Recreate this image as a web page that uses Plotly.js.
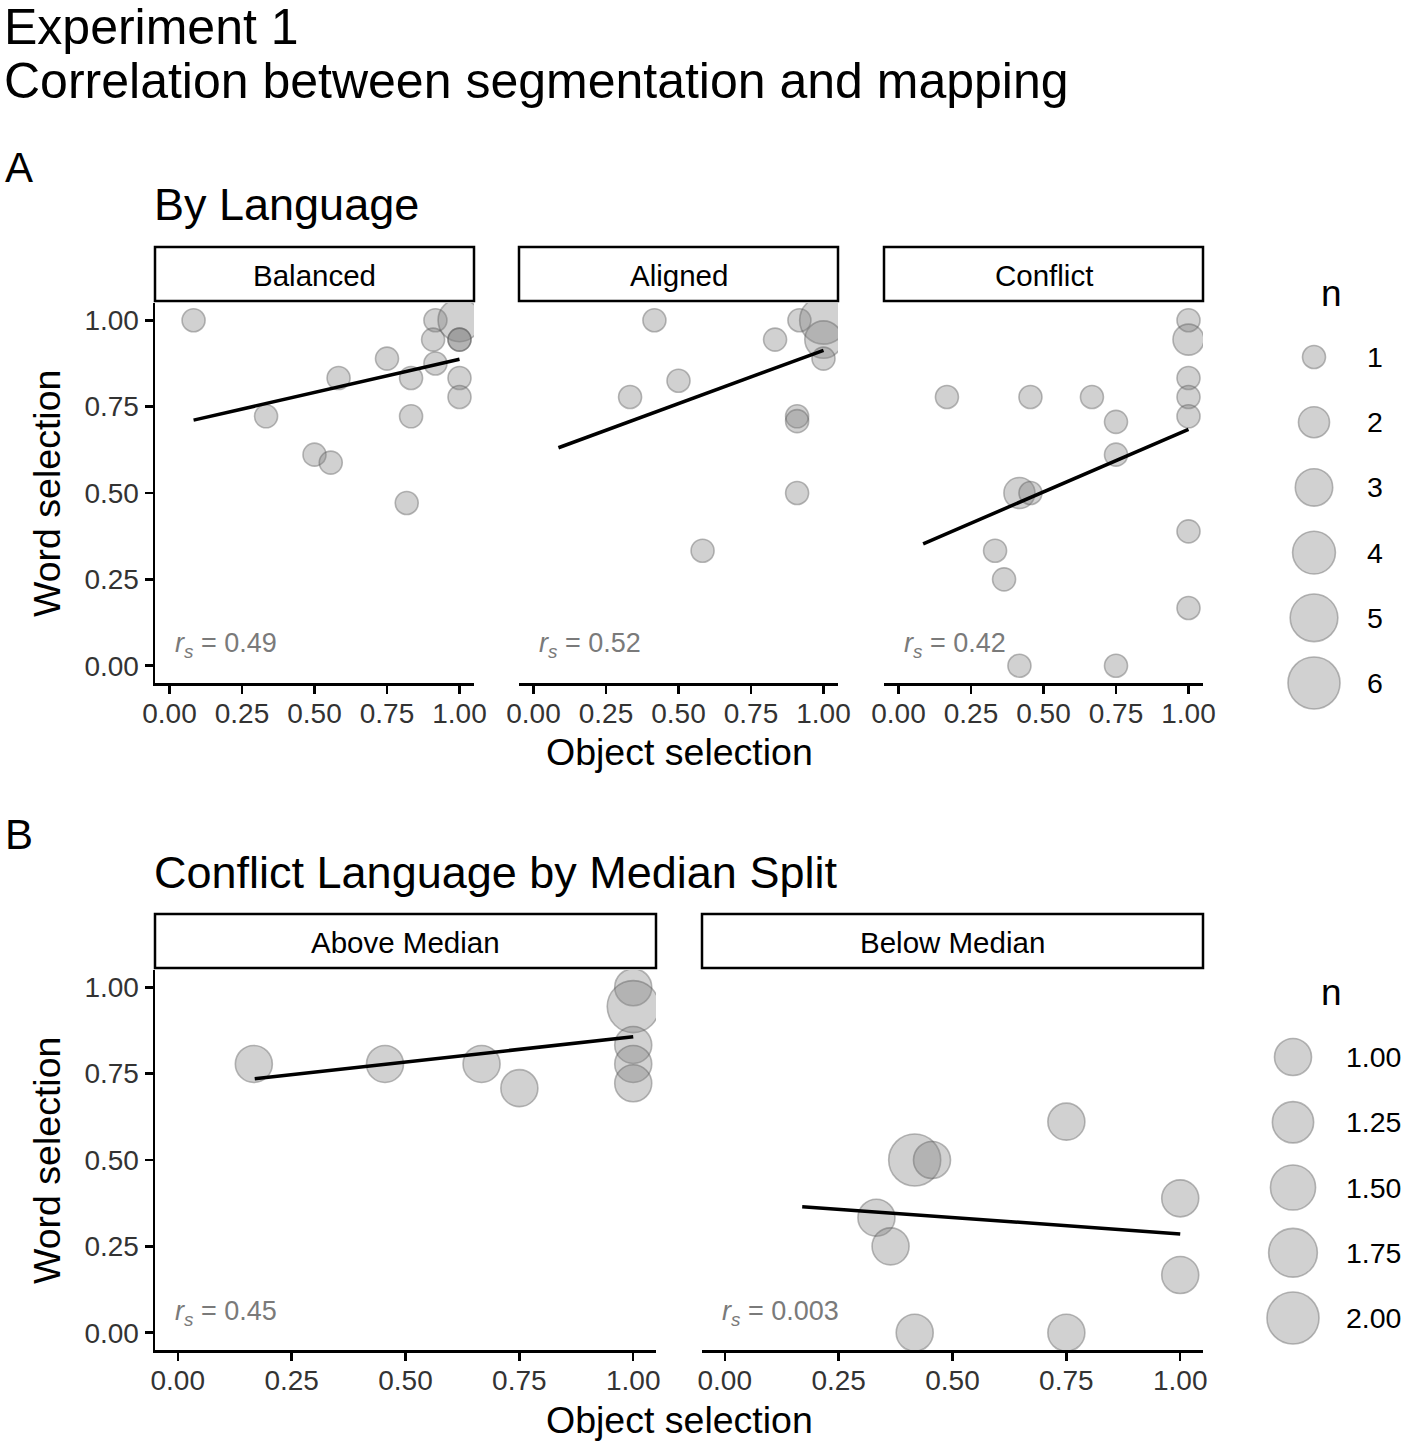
<!DOCTYPE html>
<html lang="en">
<head>
  <meta charset="UTF-8">
  <title>Experiment 1 - Correlation between segmentation and mapping</title>
  <script src="https://cdn.plot.ly/plotly-3.0.1.min.js"></script>
  <style>
    body { margin: 0; background: #fff; }
    #chart { width: 1405px; height: 1445px; }
  </style>
</head>
<body>
  <div id="chart"></div>
  <script>
    // ---- data ----
    // Panel A: by language
    const balancedX = [0.083, 0.333, 0.5, 0.556, 0.583, 0.75, 0.833, 0.833, 0.818, 0.917, 0.909, 0.917, 1, 1, 1, 1, 1];
    const balancedY = [1, 0.722, 0.611, 0.588, 0.833, 0.889, 0.833, 0.722, 0.471, 1, 0.944, 0.875, 1, 0.944, 0.944, 0.833, 0.778];
    const balancedN = [1, 1, 1, 1, 1, 1, 1, 1, 1, 1, 1, 1, 4, 1, 1, 1, 1];
    const balancedFitX = [0.083, 1];
    const balancedFitY = [0.711, 0.887];

    const alignedX = [0.417, 0.833, 0.917, 1, 1, 1, 0.5, 0.333, 0.909, 0.909, 0.909, 0.583];
    const alignedY = [1, 0.944, 1, 1, 0.944, 0.889, 0.825, 0.778, 0.722, 0.708, 0.5, 0.333];
    const alignedN = [1, 1, 1, 5, 3, 1, 1, 1, 1, 1, 1, 1];
    const alignedFitX = [0.086, 1];
    const alignedFitY = [0.631, 0.913];

    const conflictX = [1, 1, 1, 1, 1, 0.167, 0.455, 0.667, 0.75, 0.75, 0.417, 0.455, 0.333, 0.364, 1, 1, 0.417, 0.75];
    const conflictY = [1, 0.944, 0.833, 0.778, 0.722, 0.778, 0.778, 0.778, 0.706, 0.611, 0.5, 0.5, 0.333, 0.25, 0.389, 0.167, 0, 0];
    const conflictN = [1, 2, 1, 1, 1, 1, 1, 1, 1, 1, 2, 1, 1, 1, 1, 1, 1, 1];
    const conflictFitX = [0.085, 1];
    const conflictFitY = [0.353, 0.684];

    const rsA = ['0.49', '0.52', '0.42'];

    // Panel B: conflict language by median split
    const aboveX = [0.167, 0.455, 0.667, 0.75, 1, 1, 1, 1, 1];
    const aboveY = [0.778, 0.778, 0.778, 0.708, 1, 0.944, 0.833, 0.778, 0.722];
    const aboveN = [1, 1, 1, 1, 1, 2, 1, 1, 1];
    const aboveFitX = [0.169, 1];
    const aboveFitY = [0.735, 0.857];

    const belowX = [0.75, 0.417, 0.455, 1, 0.333, 0.364, 1, 0.417, 0.75];
    const belowY = [0.611, 0.5, 0.5, 0.389, 0.333, 0.25, 0.167, 0, 0];
    const belowN = [1, 2, 1, 1, 1, 1, 1, 1, 1];
    const belowFitX = [0.17, 1];
    const belowFitY = [0.365, 0.286];

    const rsB = ['0.45', '0.003'];

    const legendA = [1, 2, 3, 4, 5, 6];
    const legendB = [1, 1.25, 1.5, 1.75, 2];
    const legendBLabels = ['1.00', '1.25', '1.50', '1.75', '2.00'];
    const tickVals = [0, 0.25, 0.5, 0.75, 1];
    const tickText = ['0.00', '0.25', '0.50', '0.75', '1.00'];

    // ---- helpers ----
    const W = 1405, H = 1445;
    const FONT = 'Liberation Sans, Arial, sans-serif';
    const fx = p => p / W;
    const fy = p => 1 - p / H;

    // point area grows linearly with n (like ggplot's scale_size)
    const sizeA = n => Math.sqrt(529 + 435 * (n - 1));
    const sizeB = n => Math.sqrt(1369 + 1335 * (n - 1));

    const FILL = 'rgba(125,125,125,0.5)';
    const EDGE = 'rgba(85,85,85,0.6)';

    function points(x, y, n, sizeFn, xa, ya) {
      return {
        type: 'scatter', mode: 'markers', x: x, y: y, xaxis: xa, yaxis: ya,
        marker: { size: n.map(sizeFn), sizemode: 'diameter', color: FILL, line: { color: EDGE, width: 1.6 } },
        showlegend: false, hoverinfo: 'x+y'
      };
    }
    function fit(x, y, xa, ya) {
      return {
        type: 'scatter', mode: 'lines', x: x, y: y, xaxis: xa, yaxis: ya,
        line: { color: '#000', width: 3.5 }, showlegend: false, hoverinfo: 'skip'
      };
    }

    const traces = [
      points(balancedX, balancedY, balancedN, sizeA, 'x', 'y'),
      fit(balancedFitX, balancedFitY, 'x', 'y'),
      points(alignedX, alignedY, alignedN, sizeA, 'x2', 'y2'),
      fit(alignedFitX, alignedFitY, 'x2', 'y2'),
      points(conflictX, conflictY, conflictN, sizeA, 'x3', 'y3'),
      fit(conflictFitX, conflictFitY, 'x3', 'y3'),
      points(aboveX, aboveY, aboveN, sizeB, 'x4', 'y4'),
      fit(aboveFitX, aboveFitY, 'x4', 'y4'),
      points(belowX, belowY, belowN, sizeB, 'x5', 'y5'),
      fit(belowFitX, belowFitY, 'x5', 'y5')
    ];

    // size legends drawn on a pixel-scaled hidden axis
    traces.push({
      type: 'scatter', mode: 'markers', xaxis: 'x6', yaxis: 'y6', cliponaxis: false,
      x: legendA.map(() => 1314), y: legendA.map((v, i) => 357 + 65.2 * i),
      marker: { size: legendA.map(sizeA), sizemode: 'diameter', color: FILL, line: { color: EDGE, width: 1.6 } },
      showlegend: false, hoverinfo: 'skip'
    });
    traces.push({
      type: 'scatter', mode: 'markers', xaxis: 'x6', yaxis: 'y6', cliponaxis: false,
      x: legendB.map(() => 1293), y: legendB.map((v, i) => 1057 + 65.25 * i),
      marker: { size: legendB.map(sizeB), sizemode: 'diameter', color: FILL, line: { color: EDGE, width: 1.6 } },
      showlegend: false, hoverinfo: 'skip'
    });

    const panelsA = [[155, 474, 'Balanced'], [519, 838, 'Aligned'], [884, 1203, 'Conflict']];
    const panelsB = [[155, 656, 'Above Median'], [702, 1203, 'Below Median']];
    const rowA = [303, 683], rowB = [970, 1350];

    function xAxis(px0, px1, anchor) {
      return {
        domain: [fx(px0), fx(px1)], anchor: anchor, range: [-0.05, 1.05],
        showgrid: false, zeroline: false, showline: true, linecolor: '#000', linewidth: 2.5,
        ticks: 'outside', ticklen: 8, tickwidth: 2.5, tickcolor: '#000', ticklabelstandoff: -4,
        tickvals: tickVals, ticktext: tickText,
        tickfont: { family: FONT, size: 28, color: '#333' }, fixedrange: true
      };
    }
    function yAxis(row, anchor, shown) {
      return {
        domain: [fy(row[1]), fy(row[0])], anchor: anchor, range: [-0.05, 1.05],
        showgrid: false, zeroline: false, showline: shown, linecolor: '#000', linewidth: 2.5,
        ticks: shown ? 'outside' : '', ticklen: 8, tickwidth: 2.5, tickcolor: '#000',
        showticklabels: shown, tickvals: tickVals, ticktext: tickText,
        tickfont: { family: FONT, size: 28, color: '#333' }, fixedrange: true
      };
    }

    const shapes = [];
    const annotations = [];
    function txt(text, x, y, size, opts) {
      annotations.push(Object.assign({
        text: text, x: x, y: y, xref: 'paper', yref: 'paper', showarrow: false,
        xanchor: 'left', yanchor: 'middle', font: { family: FONT, size: size, color: '#000' }
      }, opts || {}));
    }
    function strip(px0, px1, top, label) {
      shapes.push({
        type: 'rect', xref: 'paper', yref: 'paper', x0: fx(px0), x1: fx(px1), y0: fy(top + 54), y1: fy(top),
        line: { color: '#000', width: 2.5 }, fillcolor: '#fff'
      });
      txt(label, fx((px0 + px1) / 2), fy(top + 28), 29.5, { xanchor: 'center' });
    }

    const rsFont = { family: FONT, size: 27, color: '#7a7a7a' };
    panelsA.forEach((p, i) => {
      strip(p[0], p[1], 247, p[2]);
      txt('<i>r</i><sub><i>s</i></sub> = ' + rsA[i], fx(p[0] + 18), fy(645), 27, { font: rsFont });
    });
    panelsB.forEach((p, i) => {
      strip(p[0], p[1], 914, p[2]);
      txt('<i>r</i><sub><i>s</i></sub> = ' + rsB[i], fx(p[0] + 18), fy(1313), 27, { font: rsFont });
    });

    // titles and labels
    txt('Experiment 1', fx(2), fy(27), 50);
    txt('Correlation between segmentation and mapping', fx(2), fy(81), 50);
    txt('A', fx(3), fy(167), 42);
    txt('By Language', fx(152), fy(205), 45);
    txt('B', fx(3), fy(834), 42);
    txt('Conflict Language by Median Split', fx(152), fy(872), 45);

    txt('Object selection', fx(679), fy(752), 37.5, { xanchor: 'center' });
    txt('Object selection', fx(679), fy(1420), 37.5, { xanchor: 'center' });
    txt('Word selection', fx(47), fy(494), 37.5, { xanchor: 'center', textangle: -90 });
    txt('Word selection', fx(47), fy(1161), 37.5, { xanchor: 'center', textangle: -90 });

    txt('n', fx(1331), fy(293), 37, { xanchor: 'center' });
    legendA.forEach((v, i) => txt(String(v), fx(1365), fy(357 + 65.2 * i), 28.5));
    txt('n', fx(1331), fy(992), 37, { xanchor: 'center' });
    legendBLabels.forEach((v, i) => txt(v, fx(1344), fy(1057 + 65.25 * i), 28.5));

    const layout = {
      width: W, height: H, margin: { l: 0, r: 0, t: 0, b: 0 },
      paper_bgcolor: '#fff', plot_bgcolor: 'rgba(0,0,0,0)',
      font: { family: FONT },
      xaxis: xAxis(155, 474, 'y'), yaxis: yAxis(rowA, 'x', true),
      xaxis2: xAxis(519, 838, 'y2'), yaxis2: yAxis(rowA, 'x2', false),
      xaxis3: xAxis(884, 1203, 'y3'), yaxis3: yAxis(rowA, 'x3', false),
      xaxis4: xAxis(155, 656, 'y4'), yaxis4: yAxis(rowB, 'x4', true),
      xaxis5: xAxis(702, 1203, 'y5'), yaxis5: yAxis(rowB, 'x5', false),
      xaxis6: { domain: [0, 1], range: [0, W], visible: false, anchor: 'y6', fixedrange: true },
      yaxis6: { domain: [0, 1], range: [H, 0], visible: false, anchor: 'x6', fixedrange: true },
      shapes: shapes, annotations: annotations, showlegend: false
    };

    Plotly.newPlot('chart', traces, layout, { displayModeBar: false, staticPlot: true });
  </script>
</body>
</html>
